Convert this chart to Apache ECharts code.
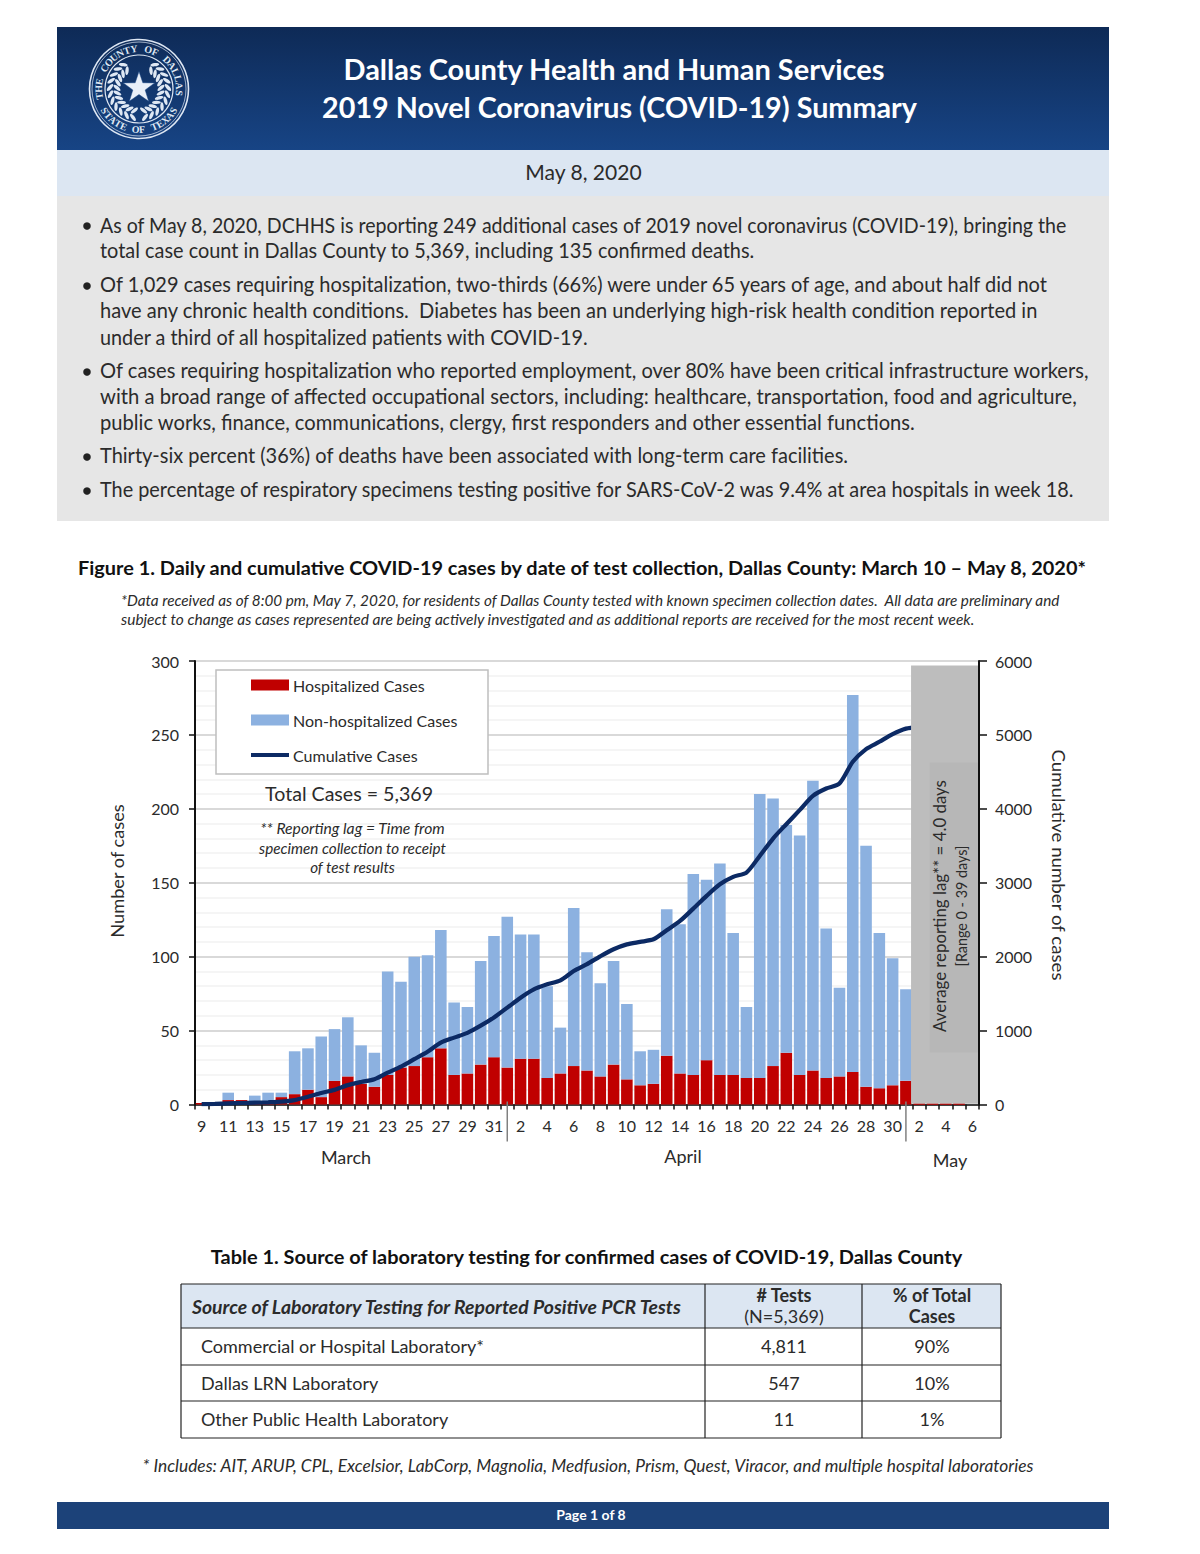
<!DOCTYPE html>
<html><head><meta charset="utf-8">
<style>html,body{margin:0;padding:0;background:#fff}#c{width:1200px;height:1554px}</style>
<script src="https://cdn.jsdelivr.net/npm/echarts@6/dist/echarts.min.js"></script>
</head><body><div id="c"></div>
<script>
const dates = [
 "Mar 9","Mar 10","Mar 11","Mar 12","Mar 13","Mar 14","Mar 15","Mar 16","Mar 17","Mar 18","Mar 19","Mar 20","Mar 21","Mar 22","Mar 23","Mar 24","Mar 25","Mar 26","Mar 27","Mar 28","Mar 29","Mar 30","Mar 31",
 "Apr 1","Apr 2","Apr 3","Apr 4","Apr 5","Apr 6","Apr 7","Apr 8","Apr 9","Apr 10","Apr 11","Apr 12","Apr 13","Apr 14","Apr 15","Apr 16","Apr 17","Apr 18","Apr 19","Apr 20","Apr 21","Apr 22","Apr 23","Apr 24","Apr 25","Apr 26","Apr 27","Apr 28","Apr 29","Apr 30",
 "May 1","May 2","May 3","May 4","May 5","May 6"];
const hospitalized = [1,0,3,3,1,1,5,7,10,5,16,19,14,12,20,25,26,32,38,20,21,27,32,
 25,31,31,18,21,26,23,19,27,17,13,14,33,21,20,30,20,20,18,18,26,35,20,23,18,19,22,12,11,13,
 16,0.5,0.5,0.5,0.5,0];
const nonHospitalized = [0,1,5,0,5,7,3,29,28,41,35,40,26,23,70,58,74,69,80,49,45,70,82,
 102,84,84,62,31,107,80,63,70,51,23,23,99,101,136,122,143,96,48,192,181,154,162,196,101,60,255,163,105,86,
 62,0,0,0,0,0];
const cumulative = [5,8,15,20,25,30,38,60,105,155,198,262,305,342,430,513,613,714,838,905,970,1067,1178,
 1310,1445,1558,1626,1680,1806,1900,2005,2100,2166,2200,2235,2357,2483,2650,2822,2980,3080,3138,3363,3598,3792,3982,4176,4275,4343,4636,4808,4907,5011,
 5085,5110,null,null,null,null];
const lagPanel = ["May 2","May 6",297];
const monthDividers = ["Apr 1","May 1"];
const monthLabels = [["March",346,1158],["April",683,1157],["May",950,1161]];
const leftTicks = [0,300,50], rightTicks = [0,6000,1000];

const headerTitle = ["Dallas County Health and Human Services","2019 Novel Coronavirus (COVID-19) Summary"];
const bullets = [
 ["As of May 8, 2020, DCHHS is reporting 249 additional cases of 2019 novel coronavirus (COVID-19), bringing the","total case count in Dallas County to 5,369, including 135 confirmed deaths."],
 ["Of 1,029 cases requiring hospitalization, two-thirds (66%) were under 65 years of age, and about half did not","have any chronic health conditions.  Diabetes has been an underlying high-risk health condition reported in","under a third of all hospitalized patients with COVID-19."],
 ["Of cases requiring hospitalization who reported employment, over 80% have been critical infrastructure workers,","with a broad range of affected occupational sectors, including: healthcare, transportation, food and agriculture,","public works, finance, communications, clergy, first responders and other essential functions."],
 ["Thirty-six percent (36%) of deaths have been associated with long-term care facilities."],
 ["The percentage of respiratory specimens testing positive for SARS-CoV-2 was 9.4% at area hospitals in week 18."]
];
const bulletY = [[225,251],[285,311,338],[371,397,423],[456],[490]];
const bulletEnd = [[1068,755],[1050,1038,589],[1091,1077,916],[849],[1076]];
const tableRows = [["Commercial or Hospital Laboratory*","4,811","90%"],["Dallas LRN Laboratory","547","10%"],["Other Public Health Laboratory","11","1%"]];

const F = 'Lato, "Open Sans", sans-serif', INK = '#2b2b2b';
const ctx = document.createElement('canvas').getContext('2d');
const g = [];
const rect = (x,y,w,h,fill,extra)=>g.push(Object.assign({type:'rect',shape:{x,y,width:w,height:h},style:{fill},silent:true,z:0},extra||{}));
const line = (x1,y1,x2,y2,stroke,lw)=>g.push({type:'line',shape:{x1,y1,x2,y2},style:{stroke,lineWidth:lw||1},silent:true,z:1});
const text = (t,x,y,size,o)=>{o=o||{};const font=(o.style||'normal')+' '+(o.weight||'normal')+' '+size+'px '+F;
  let sc=1; if(o.w){ctx.font=font;sc=o.w/ctx.measureText(t).width;}
  g.push({type:'text',x,y:o.rot?y:y-0.6,rotation:o.rot||0,scaleX:sc,silent:true,z:o.z||5,
  style:{text:t,fill:o.fill||INK,font,align:o.align||'left',verticalAlign:'middle'}})};

// header
rect(57,27,1052,123,new echarts.graphic.LinearGradient(0,0,0,1,[{offset:0,color:'#0e2a56'},{offset:1,color:'#174485'}]));
rect(57,150,1052,46,'#dce6f2');
rect(57,196,1052,325,'#e6e6e6');
text(headerTitle[0],614,70,28.5,{align:'center',weight:'bold',fill:'#fff',w:542});
text(headerTitle[1],619.5,108,28.5,{align:'center',weight:'bold',fill:'#fff',w:595});
text("May 8, 2020",583.5,173,21.5,{align:'center',w:117});
// seal
const sx=139, sy=89, seal='#dfe8f4';
[[49.5,1.6],[47,0.7],[34,1.2]].forEach(([r,lw])=>g.push({type:'circle',shape:{cx:sx,cy:sy,r},style:{fill:'none',stroke:seal,lineWidth:lw},silent:true,z:2}));
const ring=(s,startDeg,stepDeg,r,flip)=>{[...s].forEach((ch,i)=>{const a=(startDeg+i*stepDeg)*Math.PI/180;
  g.push({type:'text',x:sx+r*Math.cos(a),y:sy+r*Math.sin(a),rotation:-(a+(flip?-Math.PI/2:Math.PI/2)),silent:true,z:3,
   style:{text:ch,fill:seal,font:'bold 10px "Liberation Serif", serif',align:'center',verticalAlign:'middle'}})})};
ring("THE COUNTY OF DALLAS",-190,10.3,40.5,false);
ring("STATE OF TEXAS",148,-8.9,40.5,true);
for(let side=-1;side<=1;side+=2){
 for(let i=0;i<11;i++){const deg=90-side*(12+i*13.5),a=deg*Math.PI/180;
  [[22,0.9],[29,-0.7]].forEach(([r,tilt])=>{
   g.push({type:'ellipse',shape:{cx:0,cy:0,rx:4.4,ry:1.7},x:sx+r*Math.cos(a),y:sy+r*Math.sin(a),rotation:-(a+side*Math.PI/2+side*tilt),style:{fill:seal},silent:true,z:3});});
 }}
const starPts=[];for(let i=0;i<10;i++){const r=i%2?6.5:16.5,a=-Math.PI/2+i*Math.PI/5;starPts.push([sx+r*Math.cos(a),sy-1+r*Math.sin(a)]);}
g.push({type:'polygon',shape:{points:starPts},style:{fill:'#e9eff8',stroke:'#174485',lineWidth:0.5},silent:true,z:3});
// bullets
bullets.forEach((b,i)=>{g.push({type:'circle',shape:{cx:87,cy:bulletY[i][0]+1,r:3.8},style:{fill:'#222'},silent:true,z:2});
  b.forEach((l,j)=>text(l,100,bulletY[i][j],20.2,{w:bulletEnd[i][j]-100}));});
// figure heading
text("Figure 1. Daily and cumulative COVID-19 cases by date of test collection, Dallas County: March 10 – May 8, 2020*",78,568,19.6,{weight:'bold',fill:'#111',w:1010});
text("*Data received as of 8:00 pm, May 7, 2020, for residents of Dallas County tested with known specimen collection dates.  All data are preliminary and",121,601,14.6,{style:'italic',w:941});
text("subject to change as cases represented are being actively investigated and as additional reports are received for the most recent week.",121,620,14.6,{style:'italic',w:854});
// chart annotations
rect(216,670,272,104,'#fff',{style:{fill:'#fff',stroke:'#bfbfbf',lineWidth:1.5},z:3});
text("Total Cases = 5,369",349,794,20,{align:'center',z:6,w:168});
["** Reporting lag = Time from","specimen collection to receipt","of test results"].forEach((t,i)=>text(t,352.5,[829,849,868][i],15,{align:'center',style:'italic',z:6,w:[185,187,85][i]}));
monthLabels.forEach(m=>text(m[0],m[1],m[2],18,{align:'center'}));
text("Number of cases",117,871,18,{align:'center',rot:Math.PI/2,w:134});
text("Cumulative number of cases",1059,865,18,{align:'center',rot:-Math.PI/2,w:232});
text("Average reporting lag** = 4.0 days",940,906,16.5,{align:'center',rot:Math.PI/2,z:20,w:252});
text("[Range 0 - 39 days]",961,906,14.5,{align:'center',rot:Math.PI/2,z:20,w:121});
// table
text("Table 1. Source of laboratory testing for confirmed cases of COVID-19, Dallas County",586.5,1257,19.6,{align:'center',weight:'bold',fill:'#111',w:753});
rect(181,1284,820,44,'#dce6f2');
[1284,1328,1365,1401,1438].forEach(y=>line(181,y,1001,y,'#222',1.2));
[181,705,862,1001].forEach(x=>line(x,1284,x,1438,'#222',1.2));
text("Source of Laboratory Testing for Reported Positive PCR Tests",192,1307,18.2,{weight:'bold',style:'italic',w:491});
text("# Tests",784,1296,18,{align:'center',weight:'bold'});
text("(N=5,369)",784,1317,18,{align:'center'});
text("% of Total",932,1296,18,{align:'center',weight:'bold'});
text("Cases",932,1317,18,{align:'center',weight:'bold'});
tableRows.forEach((r,i)=>{const y=[1347,1384,1420][i];text(r[0],201,y,18);text(r[1],784,y,18,{align:'center'});text(r[2],932,y,18,{align:'center'});});
text("* Includes: AIT, ARUP, CPL, Excelsior, LabCorp, Magnolia, Medfusion, Prism, Quest, Viracor, and multiple hospital laboratories",588,1466,16.8,{align:'center',style:'italic',w:892});
rect(57,1502,1052,27,'#1c4279');
text("Page 1 of 8",591,1515,14,{align:'center',weight:'bold',fill:'#fff'});

const chart = echarts.init(document.getElementById('c'),null,{renderer:'svg',width:1200,height:1554});
const axisTxt = {color:INK,fontFamily:F,fontSize:16};
chart.setOption({
 animation:false,
 backgroundColor:'#fff',
 textStyle:{fontFamily:F},
 graphic:g,
 grid:{left:195,width:784,top:661,height:443.5,containLabel:false},
 legend:{orient:'vertical',left:249,top:677,itemWidth:38,itemHeight:11,itemGap:19,padding:0,z:10,
  data:[{name:'Hospitalized Cases',icon:'rect'},{name:'Non-hospitalized Cases',icon:'rect'},{name:'Cumulative Cases',itemStyle:{opacity:0},lineStyle:{width:4,color:'#0c2a64'}}],
  textStyle:{color:INK,fontFamily:F,fontSize:16,padding:[0,0,0,-1]}},
 xAxis:{type:'category',data:dates,boundaryGap:true,
  axisLine:{lineStyle:{color:'#111',width:1.5}},
  axisTick:{show:true,interval:0,alignWithLabel:false,length:5,lineStyle:{color:'#111',width:1.5}},
  axisLabel:{interval:1,margin:13,formatter:v=>v.split(' ')[1],...axisTxt},
  splitLine:{show:false}},
 yAxis:[
  {type:'value',min:leftTicks[0],max:leftTicks[1],interval:leftTicks[2],
   axisLine:{show:true,lineStyle:{color:'#111',width:2}},axisTick:{show:true,length:6,lineStyle:{color:'#111',width:1.5}},
   axisLabel:{margin:16,...axisTxt},
   splitLine:{show:true,lineStyle:{color:'#d9d9d9',width:2}},
   minorTick:{show:false,splitNumber:5},minorSplitLine:{show:true,lineStyle:{color:'#f2f2f2',width:1.5}}},
  {type:'value',min:rightTicks[0],max:rightTicks[1],interval:rightTicks[2],
   axisLine:{show:true,lineStyle:{color:'#111',width:2}},axisTick:{show:true,length:8,lineStyle:{color:'#111',width:1.5}},
   axisLabel:{margin:16,formatter:v=>String(v),...axisTxt},splitLine:{show:false}}
 ],
 series:[
  {name:'Hospitalized Cases',type:'bar',stack:'c',data:hospitalized,barCategoryGap:'13%',itemStyle:{color:'#c00000'},z:2},
  {name:'Non-hospitalized Cases',type:'bar',stack:'c',data:nonHospitalized,itemStyle:{color:'#8cb1e0'},z:2},
  {name:'Cumulative Cases',type:'line',yAxisIndex:1,data:cumulative,smooth:0.25,showSymbol:false,symbol:'none',connectNulls:false,
   lineStyle:{color:'#0c2a64',width:4.2},itemStyle:{color:'#0c2a64'},z:7},
  {name:'Lag panel',type:'custom',z:8,silent:true,clip:false,data:[lagPanel],encode:{x:0,y:2},
   renderItem:(p,api)=>{const a=api.coord([api.value(0),api.value(2)]),b=api.coord([api.value(1),0]),w=api.size([1,0])[0];
    return {type:'group',children:[
     {type:'rect',shape:{x:a[0]-w/2-1.5,y:a[1],width:b[0]-a[0]+w+0.5,height:b[1]-a[1]-0.8},style:{fill:'#bdbdbd'}},
     {type:'rect',shape:{x:a[0]+w*0.78,y:a[1]+97,width:b[0]-a[0]+w/2-w*0.78-1,height:290},style:{fill:'#b7b7b7'}}]};}},
  {name:'Hospitalized tail',type:'bar',xAxisIndex:0,yAxisIndex:0,barGap:'-100%',z:9,silent:true,itemStyle:{color:'#c00000'},data:hospitalized.map((v,i)=>i>53?v:null)},
  {name:'Month dividers',type:'custom',z:9,silent:true,clip:false,data:monthDividers.map(d=>[d]),encode:{x:0},
   renderItem:(p,api)=>{const a=api.coord([api.value(0),0]);
    return {type:'line',shape:{x1:a[0],y1:a[1]-3,x2:a[0],y2:a[1]+37},style:{stroke:'#808080',lineWidth:1.5}};}}
 ]
});
</script></body></html>
